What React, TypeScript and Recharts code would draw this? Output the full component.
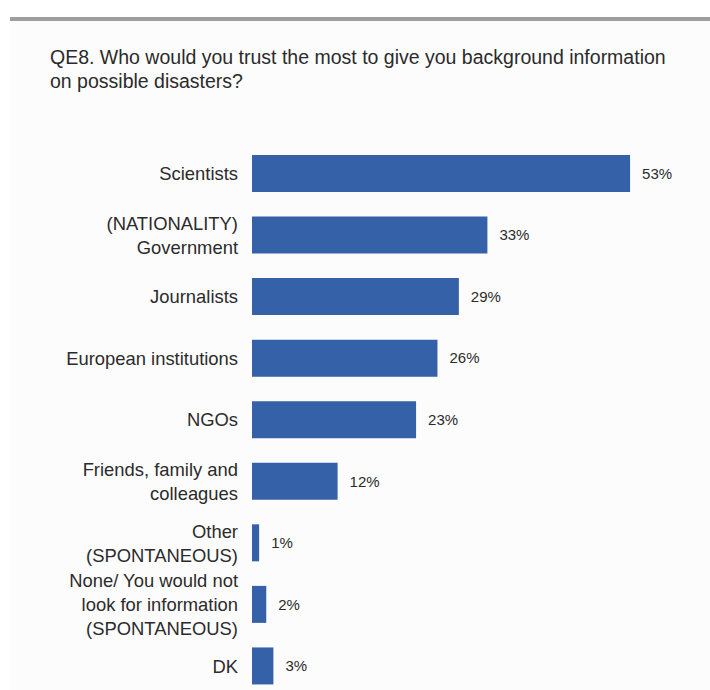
import { BarChart, Bar, XAxis, YAxis, LabelList } from "recharts";

const CATEGORIES = [
  "Scientists",
  "(NATIONALITY)\nGovernment",
  "Journalists",
  "European institutions",
  "NGOs",
  "Friends, family and\ncolleagues",
  "Other\n(SPONTANEOUS)",
  "None/ You would not\nlook for information\n(SPONTANEOUS)",
  "DK",
];
const VALUES = [53, 33, 29, 26, 23, 12, 1, 2, 3];

const TITLE_LINES = [
  "QE8. Who would you trust the most to give you background information",
  "on possible disasters?",
];

const FONT = '"Liberation Sans Narrow", "Arial Narrow", "Liberation Sans", Arial, sans-serif';
const BAR_COLOR = "#3561a9";
const TEXT_COLOR = "#2b2b2b";

const data = CATEGORIES.map((name, i) => ({ name, value: VALUES[i] }));

function CategoryTick(props: any) {
  const { x, y, payload } = props;
  const lines = String(payload.value).split("\n");
  const lh = 24;
  const start = -((lines.length - 1) / 2) * lh;
  return (
    <text
      x={x}
      y={y}
      textAnchor="end"
      fill={TEXT_COLOR}
      fontSize={18.4}
      fontFamily={FONT}
    >
      {lines.map((l, i) => (
        <tspan key={i} x={x} y={y + start + i * lh} dy="0.35em">
          {l}
        </tspan>
      ))}
    </text>
  );
}

export default function App() {
  return (
    <div
      style={{
        position: "absolute",
        left: 0,
        top: 0,
        width: 710,
        height: 690,
        overflow: "hidden",
        background: "#ffffff",
        fontFamily: FONT,
      }}
    >
      <div
        style={{
          position: "absolute",
          left: 10,
          top: 17,
          width: 700,
          height: 4,
          background: "#9e9e9e",
        }}
      />
      <div
        style={{
          position: "absolute",
          left: 10,
          top: 21,
          width: 700,
          height: 669,
          background: "#fcfcfc",
        }}
      />
      <div
        style={{
          position: "absolute",
          left: 50,
          top: 45,
          fontSize: 19.5,
          lineHeight: "24px",
          color: TEXT_COLOR,
          whiteSpace: "nowrap",
        }}
      >
        {TITLE_LINES.map((t) => (
          <div key={t}>{t}</div>
        ))}
      </div>
      <div style={{ position: "absolute", left: 0, top: 0 }}>
        <BarChart
          layout="vertical"
          width={710}
          height={700}
          data={data}
          margin={{ top: 143, right: 30, bottom: 3, left: 0 }}
        >
          <XAxis type="number" domain={[0, 60]} hide />
          <YAxis
            type="category"
            dataKey="name"
            width={252}
            axisLine={false}
            tickLine={false}
            tickMargin={8}
            tick={<CategoryTick />}
            interval={0}
          />
          <Bar dataKey="value" fill={BAR_COLOR} barSize={37} isAnimationActive={false}>
            <LabelList
              dataKey="value"
              position="right"
              offset={12}
              formatter={(v: any) => `${v}%`}
              fill={TEXT_COLOR}
              fontSize={15}
              fontFamily={FONT}
            />
          </Bar>
        </BarChart>
      </div>
    </div>
  );
}
